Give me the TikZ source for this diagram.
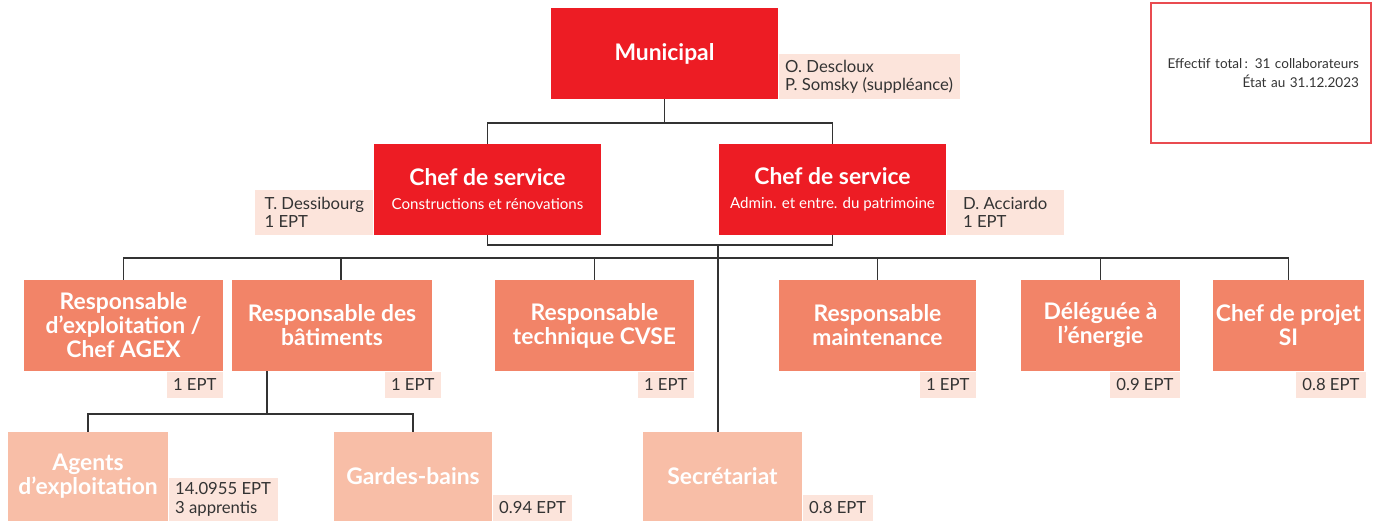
\documentclass[tikz,border=0pt]{standalone}
\usepackage{fontspec}
\setmainfont{Lato}
\usetikzlibrary{positioning}
\definecolor{vdlred}{HTML}{ED1C24}
\definecolor{salmon}{HTML}{F28468}
\definecolor{peach}{HTML}{F8BEA7}
\definecolor{tagpink}{HTML}{FCE4DB}
\definecolor{ink}{HTML}{333333}
\definecolor{framered}{HTML}{E94B50}
\newcommand{\soustitre}[1]{{\normalfont\fontsize{8.6}{10}\selectfont #1}}
\tikzstyle{unitbox}=[shape=rectangle,text=white,font=\bfseries\fontsize{13}{13.7}\selectfont,align=center,inner sep=0pt]
\tikzstyle{chefbox}=[unitbox,fill=vdlred,minimum width=45.4mm,minimum height=18.2mm]
\tikzstyle{respbox}=[unitbox,fill=salmon,minimum height=18.2mm]
\tikzstyle{teambox}=[unitbox,fill=peach,minimum height=17.8mm]
\tikzstyle{eptbox}=[shape=rectangle,fill=tagpink,text=ink,font=\fontsize{9.5}{10.4}\selectfont,align=left,inner xsep=1.3mm,inner ysep=0pt,minimum height=5.2mm]
\tikzstyle{trait}=[draw=ink,line width=0.85pt]

\begin{document}
\begin{tikzpicture}[x=0.2mm, y=-0.2mm]
	\useasboundingbox (0,0) rectangle (1381,521);
	% direction
	\node[chefbox] (mun) at (664.5,53.5) {Municipal};
	\node[eptbox,anchor=south west,minimum height=9mm] (munept) at (mun.south east) {O. Descloux\\P. Somsky (suppléance)};
	\node[chefbox] (csL) at (487.5,189.5) {Chef de service\\\soustitre{Constructions et rénovations}};
	\node[eptbox,anchor=south east,minimum height=9mm,minimum width=23.6mm] (csLept) at (csL.south west) {T. Dessibourg\\1 EPT};
	\node[chefbox] (csR) at (832.5,189.5) {Chef de service\\\soustitre{Admin. et entre. du patrimoine}};
	\node[eptbox,anchor=south west,minimum height=9mm,minimum width=23.4mm] (csRept) at (csR.south east) {D. Acciardo\\1 EPT};
	% responsables
	\node[respbox,minimum width=39.8mm] (rexp) at (123.5,325.5) {Responsable\\d’exploitation /\\Chef AGEX};
	\node[respbox,minimum width=40mm] (rbat) at (332,325.5) {Responsable des\\bâtiments};
	\node[respbox,minimum width=39.8mm] (rcvse) at (594.5,325.5) {Responsable\\technique CVSE};
	\node[respbox,minimum width=39.4mm] (rmaint) at (877.5,325.5) {Responsable\\maintenance};
	\node[respbox,minimum width=31.8mm] (deleg) at (1100.5,325.5) {Déléguée à\\l’énergie};
	\node[respbox,minimum width=30.2mm] (sipro) at (1288.5,325.5) {Chef de projet\\SI};
	\node[eptbox,anchor=north east] (rexpept) at (rexp.south east) {1 EPT};
	\node[eptbox,anchor=north east] (rbatept) at ([xshift=1.8mm]rbat.south east) {1 EPT};
	\node[eptbox,anchor=north east] (rcvseept) at (rcvse.south east) {1 EPT};
	\node[eptbox,anchor=north east] (rmaintept) at (rmaint.south east) {1 EPT};
	\node[eptbox,anchor=north east] (delegept) at (deleg.south east) {0.9 EPT};
	\node[eptbox,anchor=north east] (siproept) at ([xshift=0.4mm]sipro.south east) {0.8 EPT};
	% equipes
	\node[teambox,minimum width=32mm] (agents) at (88,476.5) {Agents\\d’exploitation};
	\node[teambox,minimum width=31.6mm] (gardes) at (413,476.5) {Gardes-bains};
	\node[teambox,minimum width=31.8mm] (secr) at (722.5,476.5) {Secrétariat};
	\node[eptbox,anchor=south west,minimum height=8.6mm] (agentsept) at (agents.south east) {14.0955 EPT\\3 apprentis};
	\node[eptbox,anchor=south west] (gardesept) at (gardes.south east) {0.94 EPT};
	\node[eptbox,anchor=south west] (secrept) at (secr.south east) {0.8 EPT};
	% effectif
	\node[draw=framered,line width=0.6pt,text=ink,font=\fontsize{7.7}{10.8}\selectfont,align=right,text width=39.2mm,inner xsep=2.4mm,minimum height=28mm] (eff) at (1261,73) {Effectif total\,: 31 collaborateurs\\État au 31.12.2023};
	% liaisons
	\coordinate (jmun) at (664.5,123);
	\coordinate (jcs) at (718,245);
	\coordinate (bus) at (718,258);
	\coordinate (jbat) at (267,414);
	\draw[trait] (mun) -- (jmun);
	\draw[trait] (csL.north) |- (jmun) -| (csR.north);
	\draw[trait] (csL.south) |- (jcs) -| (csR.south);
	\draw[trait] (jcs) -- (jcs |- secr.north);
	\foreach \n in {rexp,rcvse,rmaint,deleg,sipro}
		\draw[trait] (bus) -| (\n.north);
	\draw[trait] (bus) -| ([xshift=1.8mm]rbat.north);
	\draw[trait] (jbat |- rbat.south) -- (jbat);
	\draw[trait] (agents.north) |- (jbat) -| (gardes.north);
\end{tikzpicture}
\end{document}
